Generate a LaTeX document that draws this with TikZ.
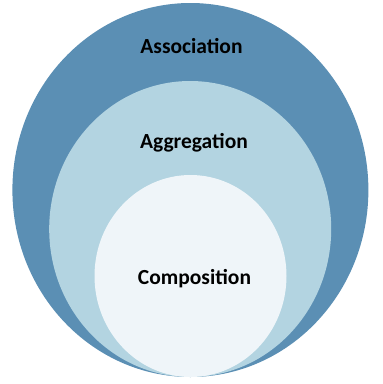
\documentclass[tikz,border=0pt]{standalone}
\usepackage{fontspec}
\setmainfont{Carlito}
\usepackage{tikz}

\definecolor{assocblue}{HTML}{5B8FB4}
\definecolor{aggrblue}{HTML}{B3D4E1}
\definecolor{compwhite}{HTML}{EFF5F9}

\begin{document}
\begin{tikzpicture}[
    x = 1pt, y = -1pt,
    tag/.style = {anchor=base, inner sep=0pt,
        font=\fontsize{21.5}{24}\selectfont\bfseries}
  ]
  \useasboundingbox (0,0) rectangle (383,384);

  % nested sets, all touching at the bottom
  \fill[assocblue] (190.4,190) ellipse [x radius=178, y radius=187];
  \fill[aggrblue]  (190.2,229) ellipse [x radius=141, y radius=148];
  \fill[compwhite] (190.5,276) ellipse [x radius=96,  y radius=101];

  \node[tag] (assoc) at (191.5,53.3)  {Association};
  \node[tag] (aggr)  at (194,148.3)   {Aggregation};
  \node[tag] (comp)  at (194.5,284.3) {Composition};
\end{tikzpicture}
\end{document}
